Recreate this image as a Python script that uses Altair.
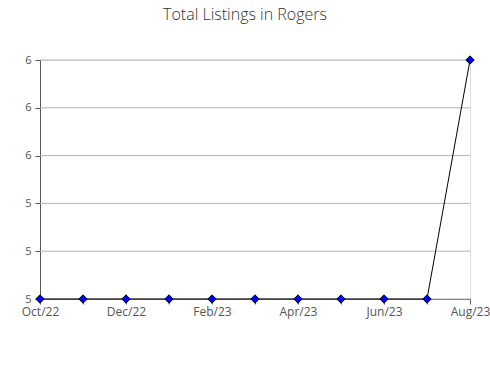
import altair as alt
import pandas as pd

months = ["Oct/22", "Nov/22", "Dec/22", "Jan/23", "Feb/23", "Mar/23",
          "Apr/23", "May/23", "Jun/23", "Jul/23", "Aug/23"]
listings = [5, 5, 5, 5, 5, 5, 5, 5, 5, 5, 6]
y_major = [5.0, 5.2, 5.4, 5.6, 5.8, 6.0]
y_all = [5.0, 5.1, 5.2, 5.3, 5.4, 5.5, 5.6, 5.7, 5.8, 5.9, 6.0]

df = pd.DataFrame({"month": months, "value": listings})
grid_df = pd.DataFrame({"g": y_major})

FONT = "Open Sans"
TXT = "#555555"

x_enc = alt.X("month:O", sort=months,
              scale=alt.Scale(type="point", padding=0),
              axis=alt.Axis(title=None, labelAngle=0, grid=False,
                            labelExpr="indexof(['Oct/22','Dec/22','Feb/23','Apr/23','Jun/23','Aug/23'], datum.value) >= 0 ? datum.value : ''",
                            domainColor="#555555", tickColor="#555555",
                            tickSize=5, labelColor=TXT, labelFont=FONT,
                            labelFontSize=12, labelPadding=2))
y_scale = alt.Scale(domain=[5, 6], nice=False, zero=False)
y_axis = alt.Axis(title=None, values=y_all, grid=False,
                  labelExpr="(round(datum.value*10) % 2 == 0) ? format(datum.value, 'd') : ''",
                  domainColor="#555555", tickColor="#555555",
                  tickSize=5, labelColor=TXT, labelFont=FONT,
                  labelFontSize=11, labelPadding=4)

grid = alt.Chart(grid_df).mark_rule(color="#b4b4b4", strokeWidth=1).encode(
    y=alt.Y("g:Q", scale=y_scale, axis=y_axis)
)

line = alt.Chart(df).mark_line(color="black", strokeWidth=1).encode(
    x=x_enc,
    y=alt.Y("value:Q", scale=y_scale, axis=y_axis)
)

points = alt.Chart(df).mark_point(shape="diamond", filled=True, size=70,
                                   color="#0000ff", stroke="black",
                                   strokeWidth=1, opacity=1).encode(
    x=alt.X("month:O", sort=months, scale=alt.Scale(type="point", padding=0)),
    y=alt.Y("value:Q", scale=y_scale)
)

chart = alt.layer(grid, line, points).properties(
    width=430, height=239,
    title=alt.TitleParams("Total Listings in Rogers", font=FONT, fontSize=16,
                          fontWeight=300, color="#333333", anchor="middle",
                          offset=31, dx=-10),
    autosize=alt.AutoSizeParams(type="none"),
    padding={"left": 40, "top": 60, "right": 20, "bottom": 81},
).configure_view(stroke=None).configure(background="white")

chart.save("out.html", embed_options={"renderer": "svg", "actions": False})
